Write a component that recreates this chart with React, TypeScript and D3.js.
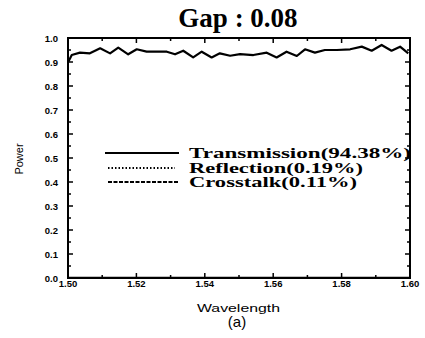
import React, { useEffect, useRef } from "react";
import * as d3 from "d3";

// wavelength (um) sampled along the transmission curve
const wavelengths = [
  1.5001, 1.5011, 1.5035, 1.5064, 1.5094, 1.5123, 1.5147, 1.5176, 1.5201, 1.523,
  1.5259, 1.5289, 1.5313, 1.5337, 1.5366, 1.5391, 1.542, 1.5444, 1.5474, 1.5503,
  1.5542, 1.5581, 1.561, 1.5639, 1.5669, 1.5693, 1.5722, 1.5751, 1.5786, 1.5825,
  1.5859, 1.5888, 1.5917, 1.5946, 1.5971, 1.5995,
];
const transmission = [
  0.901, 0.929, 0.939, 0.936, 0.957, 0.936, 0.96, 0.932, 0.953, 0.943,
  0.943, 0.943, 0.932, 0.947, 0.919, 0.943, 0.919, 0.936, 0.926, 0.933,
  0.929, 0.939, 0.919, 0.943, 0.925, 0.953, 0.939, 0.95, 0.95, 0.953,
  0.964, 0.947, 0.971, 0.947, 0.964, 0.936,
];
const lowWavelengths = [1.5, 1.52, 1.54, 1.56, 1.58, 1.6];
const reflection = [0.002, 0.002, 0.002, 0.002, 0.002, 0.002];
const crosstalk = [0.001, 0.001, 0.001, 0.001, 0.001, 0.001];

const legendLabels = ["Transmission(94.38%)", "Reflection(0.19%)", "Crosstalk(0.11%)"];
const legendDash = ["none", "1.5,2", "4,1.5"];
const legendWidths = [222, 174, 168];

const xMajor = [1.5, 1.52, 1.54, 1.56, 1.58, 1.6];
const xMinor = [1.51, 1.53, 1.55, 1.57, 1.59];
const yMajor = [0, 0.1, 0.2, 0.3, 0.4, 0.5, 0.6, 0.7, 0.8, 0.9, 1.0];
const yMinor = [0.05, 0.15, 0.25, 0.35, 0.45, 0.55, 0.65, 0.75, 0.85, 0.95];

const W = 425;
const H = 338;

export default function App() {
  const ref = useRef<SVGSVGElement | null>(null);

  useEffect(() => {
    if (!ref.current) return;
    const svg = d3.select(ref.current);
    svg.selectAll("*").remove();

    const x = d3.scaleLinear().domain([1.5, 1.6]).range([68, 410]);
    const y = d3.scaleLinear().domain([0, 1]).range([278, 38]);

    // title
    svg
      .append("text")
      .attr("x", 238)
      .attr("y", 27)
      .attr("text-anchor", "middle")
      .style("font-family", "Liberation Serif, Times New Roman, serif")
      .style("font-weight", "bold")
      .style("font-size", "27px")
      .text("Gap : 0.08");

    const line = d3
      .line<[number, number]>()
      .x((d) => x(d[0]))
      .y((d) => y(d[1]));

    // low lying curves
    svg
      .append("path")
      .datum(lowWavelengths.map((w, i) => [w, reflection[i]] as [number, number]))
      .attr("d", line)
      .attr("fill", "none")
      .attr("stroke", "#000")
      .attr("stroke-width", 1.5);
    svg
      .append("path")
      .datum(lowWavelengths.map((w, i) => [w, crosstalk[i]] as [number, number]))
      .attr("d", line)
      .attr("fill", "none")
      .attr("stroke", "#000")
      .attr("stroke-width", 1.5);

    // transmission
    svg
      .append("path")
      .datum(wavelengths.map((w, i) => [w, transmission[i]] as [number, number]))
      .attr("d", line)
      .attr("fill", "none")
      .attr("stroke", "#000")
      .attr("stroke-width", 2.2)
      .attr("stroke-linejoin", "round");

    // frame
    svg
      .append("rect")
      .attr("x", x(1.5))
      .attr("y", y(1))
      .attr("width", x(1.6) - x(1.5))
      .attr("height", y(0) - y(1))
      .attr("fill", "none")
      .attr("stroke", "#000")
      .attr("stroke-width", 2);

    // ticks (inward, all four sides)
    const tk = svg.append("g").attr("stroke", "#000").attr("stroke-width", 1.5);
    const xt = (vals: number[], len: number) => {
      vals.forEach((v) => {
        tk.append("line").attr("x1", x(v)).attr("x2", x(v)).attr("y1", y(0)).attr("y2", y(0) - len);
        tk.append("line").attr("x1", x(v)).attr("x2", x(v)).attr("y1", y(1)).attr("y2", y(1) + len);
      });
    };
    const yt = (vals: number[], len: number) => {
      vals.forEach((v) => {
        tk.append("line").attr("x1", x(1.5)).attr("x2", x(1.5) + len).attr("y1", y(v)).attr("y2", y(v));
        tk.append("line").attr("x1", x(1.6)).attr("x2", x(1.6) - len).attr("y1", y(v)).attr("y2", y(v));
      });
    };
    xt(xMajor, 5);
    xt(xMinor, 3);
    yt(yMajor, 5);
    yt(yMinor, 3);

    const sans = "Liberation Sans, Arial, sans-serif";
    svg
      .append("g")
      .selectAll("text")
      .data(yMajor)
      .join("text")
      .attr("x", 58)
      .attr("y", (d) => y(d) + 3.5)
      .attr("text-anchor", "end")
      .style("font-family", sans)
      .style("font-weight", "bold")
      .style("font-size", "9.5px")
      .text((d) => d3.format(".1f")(d));

    svg
      .append("g")
      .selectAll("text")
      .data(xMajor)
      .join("text")
      .attr("x", (d) => x(d))
      .attr("y", 287)
      .attr("text-anchor", "middle")
      .style("font-family", sans)
      .style("font-weight", "bold")
      .style("font-size", "9.5px")
      .text((d) => d3.format(".2f")(d));

    svg
      .append("text")
      .attr("x", 238.5)
      .attr("y", 312)
      .attr("text-anchor", "middle")
      .style("font-family", sans)
      .style("font-size", "11.5px")
      .attr("textLength", 83)
      .attr("lengthAdjust", "spacingAndGlyphs")
      .text("Wavelength");

    svg
      .append("text")
      .attr("x", 237)
      .attr("y", 327)
      .attr("text-anchor", "middle")
      .style("font-family", sans)
      .style("font-size", "15px")
      .text("(a)");

    svg
      .append("text")
      .attr("transform", `translate(23,159) rotate(-90)`)
      .attr("text-anchor", "middle")
      .style("font-family", sans)
      .style("font-size", "11px")
      .text("Power");

    // legend
    const lg = svg.append("g");
    const rows = [153, 168, 182];
    const lx1 = [105, 108, 108];
    const lx2 = [179, 175, 178];
    legendLabels.forEach((lab, i) => {
      lg.append("line")
        .attr("x1", lx1[i])
        .attr("x2", lx2[i])
        .attr("y1", rows[i])
        .attr("y2", rows[i])
        .attr("stroke", "#000")
        .attr("stroke-width", 2)
        .attr("stroke-dasharray", legendDash[i]);
      lg.append("text")
        .attr("x", 189)
        .attr("y", rows[i] + 5)
        .style("font-family", "Liberation Serif, Times New Roman, serif")
        .style("font-weight", "bold")
        .style("font-size", "14px")
        .attr("textLength", legendWidths[i])
        .attr("lengthAdjust", "spacingAndGlyphs")
        .text(lab);
    });
  }, []);

  return (
    <svg
      ref={ref}
      width={W}
      height={H}
      style={{ position: "absolute", left: 0, top: 0, background: "#fff" }}
    />
  );
}
